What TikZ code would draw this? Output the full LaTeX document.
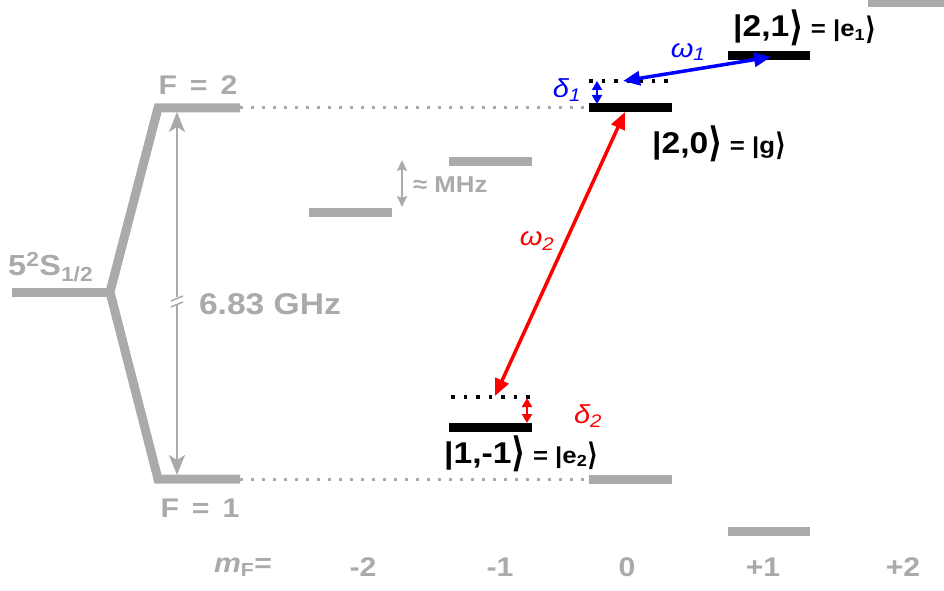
\documentclass[tikz,border=0pt]{standalone}
\usepackage{fontspec}
\setmainfont[FakeStretch=1.12]{Liberation Sans}
\newfontfamily\bracketfont{DejaVu Sans}
\newcommand{\ketend}{\raisebox{-0.12em}{\scalebox{1.05}[1.35]{\bracketfont\char"27E9}}}
\usetikzlibrary{arrows.meta, positioning}
\definecolor{levelgray}{HTML}{AAAAAA}

\begin{document}
\begin{tikzpicture}[
    x=1pt, y=-1pt,
    grayline/.style={line width=9pt, levelgray},
    blackline/.style={line width=9pt, black},
    guide/.style={line width=3pt, levelgray, dash pattern=on 3pt off 8pt},
    virtual/.style={line width=3.5pt, black, dash pattern=on 3.5pt off 9pt},
    laser/.style={<->, >={Triangle[length=17pt, width=14pt]}, line width=3.5pt},
    detune/.style={<->, >={Triangle[length=9pt, width=10pt]}, line width=2pt},
    split/.style={<->, >={Stealth[length=20pt, width=16pt, inset=5pt]}, line width=2pt, levelgray},
    graylabel/.style={font=\bfseries\fontsize{27}{27}\selectfont, text=levelgray, inner sep=0pt},
    ket/.style={font=\bfseries\fontsize{30}{30}\selectfont, inner sep=0pt, anchor=base west},
    greek/.style={font=\itshape\fontsize{26}{26}\selectfont, inner sep=0pt}
]

\useasboundingbox (0,0) rectangle (944,591);

\coordinate (fork) at (110,292);
\coordinate (f2_end) at (240,108);
\coordinate (f1_end) at (240,479);

\draw[grayline] (12,292) -- (fork);
\draw[grayline] (f2_end) -- (158,108) -- (fork) -- (158,479) -- (f1_end);

\draw[guide] (f2_end) -- (588,108);
\draw[guide] (f1_end) -- (588,479);

\draw[grayline] (309,212) -- (392,212);
\draw[grayline] (449,161) -- (532,161);
\draw[blackline] (589,108) -- (672,108);
\draw[blackline] (728,56) -- (810,56);
\draw[grayline] (868,3) -- (950,3);

\draw[blackline] (449,427) -- (532,427);
\draw[grayline] (589,479) -- (672,479);
\draw[grayline] (728,531) -- (810,531);

\draw[virtual] (589,81) -- (672,81);
\draw[virtual] (451,397) -- (534,397);

\coordinate (gap_top) at (177,112);
\coordinate (gap_bottom) at (177,475);
\coordinate (break_top) at (177,297);
\coordinate (break_bottom) at (177,305);
\draw[split, <-] (gap_top) -- (break_top);
\draw[split, ->] (break_bottom) -- (gap_bottom);
\draw[levelgray, line width=1.5pt] (171,301) -- (183,296);
\draw[levelgray, line width=1.5pt] (171,307) -- (183,302);

\coordinate (mhz_top) at (402,160);
\coordinate (mhz_bottom) at (402,207);
\draw[split, >={Stealth[length=11pt, width=10pt, inset=2pt]}] (mhz_top) -- (mhz_bottom);

\node[graylabel] (f2_label) at (198,85) {F\, = \,2};
\node[graylabel] (f1_label) at (200,508) {F\, = \,1};
\node[graylabel, anchor=west, font=\bfseries\fontsize{29}{29}\selectfont] (term_label) at (8,267) {5\textsuperscript{2}S\textsubscript{1/2}};
\node[graylabel, font=\bfseries\fontsize{30}{30}\selectfont] (ghz_label) at (270,304) {6.83 GHz};
\node[graylabel, anchor=west, font=\bfseries\fontsize{23}{23}\selectfont] (mhz_label) at (413,185) {≈ MHz};

\node[graylabel] (mf_label) at (243,567) {\textit{m}\textsubscript{F}=};
\node[graylabel] (mf_m2) at (363,567) {-2};
\node[graylabel] (mf_m1) at (500,567) {-1};
\node[graylabel] (mf_0) at (627,567) {0};
\node[graylabel] (mf_p1) at (763,567) {+1};
\node[graylabel] (mf_p2) at (903,567) {+2};

\node[ket] (e1_label) at (733,37) {|2,1\ketend{\fontsize{23}{23}\selectfont\ = |e\textsubscript{1}\ketend}};
\node[ket] (g_label) at (652,153) {|2,0\ketend{\fontsize{23}{23}\selectfont\ = |g\ketend}};
\node[ket] (e2_label) at (444,463) {|1,-1\ketend{\fontsize{23}{23}\selectfont\ = |e\textsubscript{2}\ketend}};

\coordinate (v1) at (623,81);
\coordinate (e1) at (771,57);
\coordinate (g_bottom) at (625,112);
\coordinate (v2) at (495,396);

\draw[laser, blue] (v1) -- (e1);
\draw[laser, red] (g_bottom) -- (v2);

\draw[detune, blue] (597,81) -- (597,104);
\draw[detune, red] (527,398) -- (527,423);

\node[greek, text=blue] (omega1) at (688,52) {ω\textsubscript{1}};
\node[greek, text=blue] (delta1) at (567,90) {δ\textsubscript{1}};
\node[greek, text=red] (omega2) at (537,241) {ω\textsubscript{2}};
\node[greek, text=red] (delta2) at (588,416) {δ\textsubscript{2}};

\end{tikzpicture}
\end{document}
